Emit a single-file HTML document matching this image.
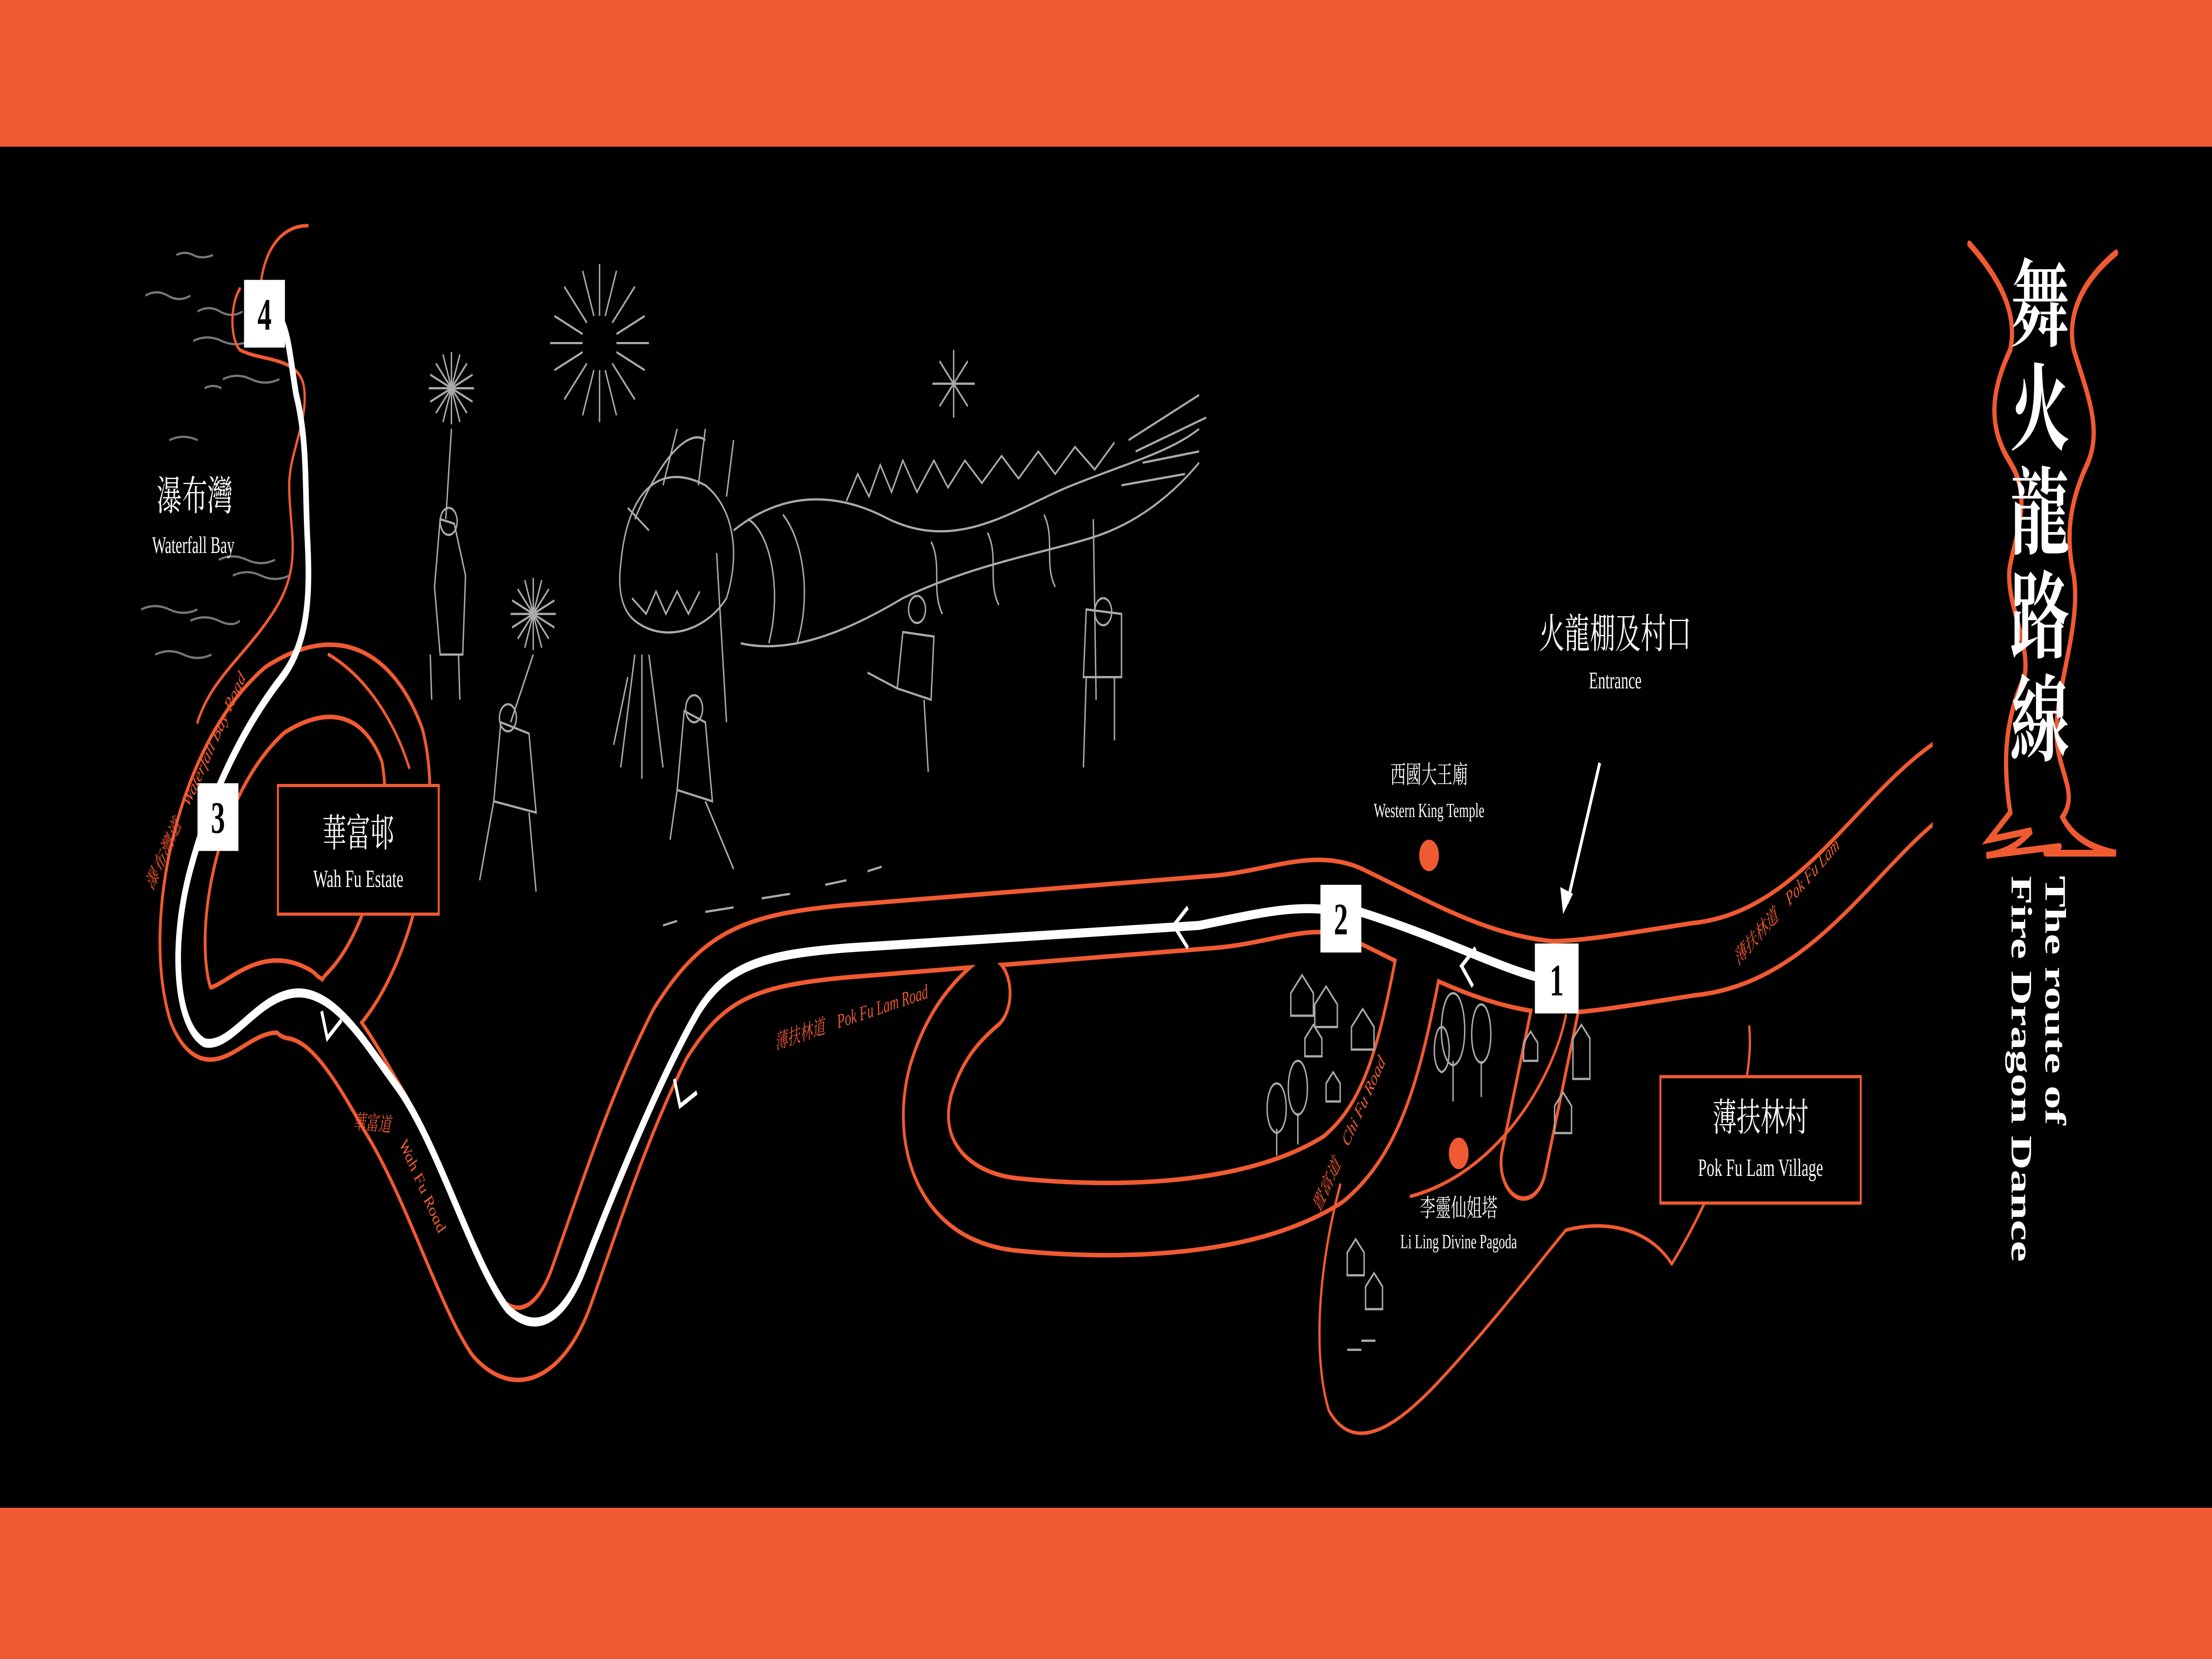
<!DOCTYPE html>
<html><head><meta charset="utf-8"><style>
html,body{margin:0;padding:0;background:#000;width:100vw;height:100vh;overflow:hidden;}
svg{display:block;position:absolute;left:0;top:0;width:100vw;height:100vh;}
</style></head><body>
<svg viewBox="0 0 1568 735" preserveAspectRatio="none" xmlns="http://www.w3.org/2000/svg">
<rect x="0" y="0" width="1568" height="735" fill="#000"/>
<rect x="0" y="0" width="1568" height="65" fill="#F05A32"/>
<rect x="0" y="668" width="1568" height="67" fill="#F05A32"/>

<g stroke="#777" stroke-width="1" fill="none">
<path d="M103,131 q8,-3 16,0 t16,0"/><path d="M125,113 q6,-2 12,0 t14,0"/><path d="M140,138 q8,-3 16,0 t16,0"/>
<path d="M137,151 q10,-3 20,0 t20,0"/><path d="M158,168 q10,-3 20,0 t20,0"/><path d="M145,172 q6,-2 12,0"/>
<path d="M120,195 q10,-3 20,0"/><path d="M155,248 q10,-3 20,0 t20,0"/><path d="M165,255 q10,-3 20,0 t20,0"/>
<path d="M100,270 q10,-3 20,0 t20,0"/><path d="M135,275 q10,-3 20,0 t15,0"/><path d="M110,290 q10,-3 20,0 t20,0"/>
</g>

<g fill="none" stroke-linecap="round" stroke-linejoin="round">
<g stroke="#F05A32" stroke-width="34">
<path d="M1375,345 C1320,370 1280,420 1200,425 C1150,430 1120,433 1100,433 C1050,430 1010,415 960,400 C930,392 900,402 860,404 L600,417 C530,421 505,428 475,458 C445,495 425,535 405,570 C390,596 365,602 345,588 C325,570 300,520 270,490 C250,468 230,446 205,444"/>
<path d="M215,445 C175,430 152,470 135,445 C118,410 140,340 195,310 C240,292 270,305 285,330 C297,360 280,420 240,445"/>
<path d="M1005,428 C992,470 980,500 945,518 C890,540 800,543 720,538 C665,534 648,505 660,478 C670,458 685,448 700,440"/>
<path d="M1103,445 L1080,515"/>
</g>
<g stroke="#000" stroke-width="30">
<path d="M1375,345 C1320,370 1280,420 1200,425 C1150,430 1120,433 1100,433 C1050,430 1010,415 960,400 C930,392 900,402 860,404 L600,417 C530,421 505,428 475,458 C445,495 425,535 405,570 C390,596 365,602 345,588 C325,570 300,520 270,490 C250,468 230,446 205,444"/>
<path d="M215,445 C175,430 152,470 135,445 C118,410 140,340 195,310 C240,292 270,305 285,330 C297,360 280,420 240,445"/>
<path d="M1005,428 C992,470 980,500 945,518 C890,540 800,543 720,538 C665,534 648,505 660,478 C670,458 685,448 700,440"/>
<path d="M1103,445 L1080,515"/>
</g>
<rect x="1370" y="320" width="30" height="60" fill="#000" stroke="none"/>
<g stroke="#F05A32" stroke-width="1.6">
<path d="M218,100 C200,100 188,110 185,125 M170,128 C163,135 163,150 170,155 C185,160 210,158 215,170 C220,185 205,200 205,215 C205,235 215,250 195,270 C175,290 150,300 140,320"/>
<path d="M233,290 C260,300 280,320 290,340"/>
<path d="M1110,450 C1100,480 1060,520 1000,530 M950,525 C935,560 930,600 942,625 C960,645 990,632 1020,612 C1060,585 1090,560 1110,545 C1140,540 1170,545 1185,560 C1205,540 1245,490 1240,455"/>
</g>
</g>

<g stroke="#aaa" stroke-width="1" fill="none">
<g transform="translate(320,172)"><path d="M-16,0H16M0,-16V16M-11,-11L11,11M-11,11L11,-11M-15,-6L15,6M-15,6L15,-6M-6,-15L6,15M6,-15L-6,15"/></g>
<g transform="translate(378,272)"><path d="M-16,0H16M0,-16V16M-11,-11L11,11M-11,11L11,-11M-15,-6L15,6M-15,6L15,-6M-6,-15L6,15M6,-15L-6,15"/></g>
<g transform="translate(425,152)"><path d="M-35,0H-12M12,0H35M0,-35V-12M0,12V35M-25,-25L-9,-9M9,9L25,25M-25,25L-9,9M9,-9L25,-25M-32,-12L-12,-4M12,4L32,12M-32,12L-12,4M12,-4L32,-12M-12,-32L-4,-12M4,12L12,32M12,-32L4,-12M-4,12L-12,32"/></g>
<g transform="translate(676,170)"><path d="M-15,0H15M0,-15V15M-10,-10L10,10M-10,10L10,-10"/></g>
<path d="M320,190 L316,230"/><path d="M378,290 L362,320"/><path d="M515,320 L508,245"/><path d="M777,310 L775,230"/>
<path d="M312,230 L308,260 L312,290 L328,290 L330,255 L322,232 Z M305,290 L306,310 M325,290 L326,310 M318,225 a6,6 0 1,0 0.1,0"/>
<path d="M355,320 L350,355 L380,360 L375,325 Z M350,355 L340,390 M375,360 L380,395 M360,312 a6,6 0 1,0 0.1,0"/>
<path d="M485,315 L480,350 L505,355 L500,320 Z M480,350 L475,372 M500,355 L520,385 M492,308 a6,6 0 1,0 0.1,0"/>
<path d="M640,280 L636,305 L660,310 L662,282 Z M636,305 L615,298 M655,310 L658,342 M650,264 a6,6 0 1,0 0.1,0"/>
<path d="M770,270 L768,300 L795,300 L795,272 Z M770,300 L768,340 M790,300 L790,328 M782,265 a6,6 0 1,0 0.1,0"/>
<path d="M440,250 C445,215 470,205 500,215 C520,225 525,245 515,265 C500,280 470,285 450,275 C440,270 438,260 440,250 Z"/>
<path d="M450,230 C470,200 490,190 500,195 M460,235 L445,225 M480,190 L470,215 M500,190 L495,215 M520,195 L515,220"/>
<path d="M448,265 L458,272 L465,262 L472,272 L480,262 L488,272 L496,262"/>
<path d="M520,235 C560,215 600,220 630,230 C680,245 720,225 760,215 C800,205 830,200 850,190"/>
<path d="M525,285 C560,290 600,280 640,265 C690,250 740,245 775,238 C805,232 830,220 850,205"/>
<path d="M600,222 L608,210 L616,220 L624,206 L632,218 L640,204 L650,218 L662,204 L672,216 L684,204 L696,214 L710,202 L722,212 L736,200 L748,210 L762,198 L776,208 L790,196"/>
<path d="M530,230 C545,235 555,260 545,285 M555,228 C570,240 575,265 565,285 M660,240 C668,250 660,262 668,272 M700,236 C708,246 700,258 708,268 M740,228 C748,238 740,250 748,260"/>
<path d="M800,195 L850,175 M805,200 L855,185 M810,205 L850,200 M795,215 L840,210"/>
<path d="M450,290 L440,340 M455,290 L455,345 M460,290 L470,340 M445,300 L435,330"/>
<path d="M470,410 L480,408 M500,404 L520,402 M540,398 L560,396 M585,392 L600,390 M615,386 L625,384"/>
<path d="M915,440 l8,-8 l8,8 v10 h-16 Z M932,445 l8,-8 l8,8 v10 h-16 Z M925,460 l6,-6 l6,6 v8 h-12 Z M958,455 l8,-8 l8,8 v10 h-16 Z M940,480 l5,-5 l5,5 v8 h-10 Z"/>
<path d="M905,480 c-8,0 -10,20 0,22 c10,-2 8,-22 0,-22 M905,500 v12 M920,470 c-8,0 -10,22 0,24 c10,-2 8,-24 0,-24 M920,493 v14"/>
<path d="M1030,440 c-10,0 -12,30 0,32 c12,-2 10,-32 0,-32 M1030,470 v18 M1050,445 c-8,0 -10,24 0,26 c10,-2 8,-26 0,-26 M1050,470 v16 M1022,455 c-6,0 -8,18 0,20 c8,-2 6,-20 0,-20"/>
<path d="M1080,462 l5,-5 l5,5 v8 h-10 Z M1115,460 l6,-6 l6,6 v18 h-12 Z M1102,490 l6,-6 l6,6 v12 h-12 Z"/>
<path d="M955,555 l6,-6 l6,6 v10 h-12 Z M968,570 l6,-6 l6,6 v10 h-12 Z M955,598 h10 M965,594 h10"/>
</g>

<g fill="none" stroke="#fff" stroke-width="4" stroke-linecap="round" stroke-linejoin="round">
<path d="M1090,433 C1060,428 1020,415 964,404 L950,404 C920,400 890,405 850,410 L600,420 C540,423 515,428 495,448 C470,475 440,520 415,560 C400,585 380,592 360,580 C335,560 310,505 280,480 C260,463 240,442 215,440 C185,438 165,465 145,462 C125,455 120,420 135,385 C150,350 175,320 200,300 C218,285 220,265 218,240 C216,215 218,195 210,175 C206,160 205,150 200,143"/>
</g>
<g fill="none" stroke="#fff" stroke-width="2">
<path d="M842,402 L832,410 L842,420"/><path d="M1046,420 L1036,428 L1044,437"/><path d="M478,478 L482,490 L494,484"/><path d="M228,448 L232,460 L242,452"/>
<path d="M1134,338 L1111,400"/>
</g>
<path d="M1108,405 L1106,393 L1115,396 Z" fill="#fff"/>

<g font-family="'Liberation Serif',serif" font-weight="bold" font-size="20" text-anchor="middle" fill="#000">
<rect x="1088" y="418" width="31" height="31" fill="#fff"/><text x="1103.5" y="441">1</text>
<rect x="936" y="392" width="29" height="30" fill="#fff"/><text x="950.5" y="414">2</text>
<rect x="140" y="347" width="29" height="30" fill="#fff"/><text x="154.5" y="369">3</text>
<rect x="173" y="124" width="29" height="30" fill="#fff"/><text x="187.5" y="146">4</text>
</g>

<rect x="197" y="348" width="114" height="57" fill="#000" stroke="#F05A32" stroke-width="1.4"/>
<rect x="1177" y="477" width="142" height="56" fill="#000" stroke="#F05A32" stroke-width="1.4"/>

<g font-family="'Liberation Serif','Noto Serif CJK SC',serif" fill="#fff" text-anchor="middle">
<text x="138" y="226" font-size="18">瀑布灣</text>
<text x="137" y="245" font-size="10.5">Waterfall Bay</text>
<text x="254" y="375" font-size="17">華富邨</text>
<text x="254" y="393" font-size="11">Wah Fu Estate</text>
<text x="1248" y="501" font-size="17">薄扶林村</text>
<text x="1248" y="521" font-size="11">Pok Fu Lam Village</text>
<text x="1145" y="287" font-size="18">火龍棚及村口</text>
<text x="1145" y="305" font-size="10.5">Entrance</text>
<text x="1013" y="347" font-size="11">西國大王廟</text>
<text x="1013" y="362" font-size="9">Western King Temple</text>
<text x="1034" y="539" font-size="11">李靈仙姐塔</text>
<text x="1034" y="553" font-size="9">Li Ling Divine Pagoda</text>
</g>
<circle cx="1013" cy="379" r="7" fill="#F05A32"/>
<circle cx="1034" cy="511" r="7" fill="#F05A32"/>

<g font-family="'Liberation Serif','Noto Serif CJK SC',serif" fill="#F05A32" font-size="9" font-style="italic">
<text transform="translate(1232,428) rotate(-36)">薄扶林道　Pok Fu Lam</text>
<text transform="translate(550,465) rotate(-12)">薄扶林道　Pok Fu Lam Road</text>
<text transform="translate(250,500) rotate(3)">華富道</text>
<text transform="translate(283,507) rotate(55)">Wah Fu Road</text>
<text transform="translate(108,395) rotate(-55)">瀑布灣道　Waterfall Bay Road</text>
<text transform="translate(935,538) rotate(-55)">置富道　Chi Fu Road</text>
</g>

<g fill="none" stroke="#F05A32" stroke-width="3" stroke-linecap="round">
<path d="M1396,108 C1420,125 1430,140 1425,155 C1410,175 1410,190 1425,205 C1440,220 1430,235 1425,250 C1420,265 1440,285 1435,300 C1420,320 1420,340 1425,360 L1410,372 L1440,368 C1430,375 1420,378 1408,379 L1460,375"/>
<path d="M1500,112 C1475,125 1465,140 1470,155 C1480,175 1490,190 1480,205 C1465,225 1465,240 1470,255 C1475,275 1460,300 1458,320 C1455,340 1475,350 1462,362 C1470,372 1485,376 1500,378 L1450,378"/>
</g>
<g font-family="'Noto Serif CJK SC','Noto Serif CJK TC',serif" font-weight="bold" font-size="42" fill="#fff" text-anchor="middle">
<text x="1446" y="150">舞</text>
<text x="1446" y="196">火</text>
<text x="1446" y="242">龍</text>
<text x="1446" y="288">路</text>
<text x="1446" y="334">線</text>
</g>
<g font-family="'Liberation Serif',serif" font-weight="bold" font-size="21" fill="#fff">
<text transform="translate(1450,388) rotate(90)">The route of</text>
<text transform="translate(1426,388) rotate(90)">Fire Dragon Dance</text>
</g>
</svg>
</body></html>
